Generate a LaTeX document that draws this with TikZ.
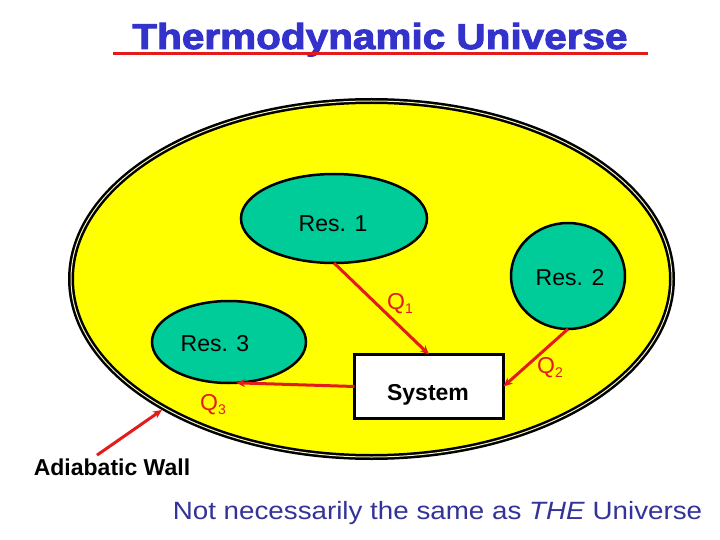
\documentclass[tikz,border=0pt]{standalone}
\usepackage{fontspec}
\setmainfont{Liberation Sans}
\newfontfamily\heavyfont[FakeBold=2.5]{Liberation Sans Bold}
\usepackage{xcolor}
\usetikzlibrary{arrows.meta,shapes.geometric}
\definecolor{titlec}{HTML}{3333CC}
\definecolor{notec}{HTML}{333399}
\definecolor{heatc}{HTML}{E41B1B}
\definecolor{resc}{HTML}{00CC99}
\definecolor{wallc}{HTML}{FFFF00}
\definecolor{gapc}{HTML}{F4F4B8}
\newcommand{\Qheat}[1]{Q\raisebox{-4pt}{\fontsize{14}{14}\selectfont #1}}
\tikzset{
  universe/.style={ellipse, draw=black, line width=2.5pt, double=gapc,
    double distance=1pt, fill=wallc, inner sep=0pt, outer sep=3pt},
  res/.style={ellipse, draw=black, line width=2.5pt, fill=resc, inner sep=0pt,
    outer sep=0pt},
  sysbox/.style={draw=black, line width=3.5pt, fill=white, inner sep=0pt,
    outer sep=0pt},
  txt/.style={font=\fontsize{23}{23}\selectfont, anchor=base, inner sep=0pt},
  heat/.style={draw=heatc, line width=3pt, -{Stealth[length=9pt, width=8pt]}},
  qlab/.style={font=\fontsize{23}{23}\selectfont, text=heatc,
    anchor=base west, inner sep=0pt},
  >=Stealth}

\begin{document}
\begin{tikzpicture}[x=1pt, y=-1pt]
  \useasboundingbox (0,0) rectangle (720,540);
  % ---- title with its red rule
  \node[font=\fontsize{36}{36}\heavyfont, text=titlec, anchor=base,
    inner sep=0pt] (title) at (380,49)
    {\scalebox{1.125}[1]{Thermodynamic Universe}};
  \draw[heatc, line width=3pt] (113,54) -- (648,54);
  % ---- the universe, bounded by the adiabatic wall
  \node[universe, minimum width=601, minimum height=356] (univ) at (371.5,279) {};
  % ---- reservoirs and the system
  \node[res, minimum width=186, minimum height=89] (res1) at (334,218.5) {};
  \node[res, minimum width=114, minimum height=106] (res2) at (568,276) {};
  \node[res, minimum width=154, minimum height=82] (res3) at (229,342) {};
  \node[sysbox, minimum width=149, minimum height=64] (sys) at (429,386.5) {};
  \node[txt] (res1txt) at (333,231) {Res. 1};
  \node[txt] (res2txt) at (570,285) {Res. 2};
  \node[txt] (res3txt) at (215,351) {Res. 3};
  \node[txt, font=\fontsize{23}{23}\selectfont\bfseries] (systxt) at (428,400) {System};
  % ---- heat flows
  \draw[heat] (res1.south) -- (sys.north);
  \draw[heat] (res2.south) -- (sys.east);
  \draw[heat] (sys.west) -- (res3.-80);
  \node[qlab] (q1) at (387,309) {\Qheat{1}};
  \node[qlab] (q2) at (537,373) {\Qheat{2}};
  \node[qlab] (q3) at (200,410) {\Qheat{3}};
  % ---- the wall and the note under it
  \node[txt, font=\fontsize{23}{23}\selectfont\bfseries, inner sep=3pt] (wall)
    at (112,475) {Adiabatic Wall};
  \draw[heat] ([xshift=-15pt]wall.north) -- (univ.-148);
  \node[txt, font=\fontsize{25}{25}\selectfont, text=notec] (note) at (437.5,519)
    {\scalebox{1.11}[1]{Not necessarily the same as \textit{THE} Universe}};
\end{tikzpicture}
\end{document}
